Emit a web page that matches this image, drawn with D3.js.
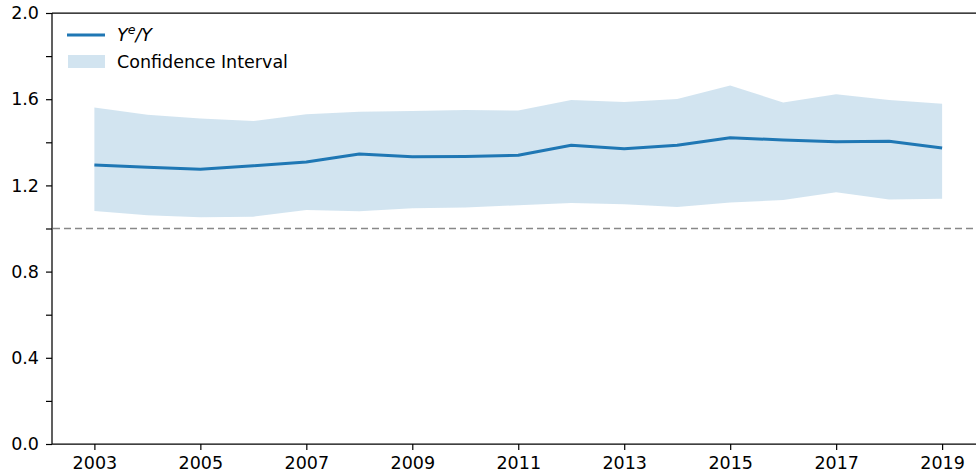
<!DOCTYPE html>
<html>
<head>
<meta charset="utf-8">
<script src="https://cdn.jsdelivr.net/npm/d3@7"></script>
<style>
  html, body { margin: 0; padding: 0; background: #fff; }
  svg { display: block; }
  text { font-family: "DejaVu Sans", sans-serif; fill: #000; }
</style>
</head>
<body>
<svg id="chart" width="976" height="476"></svg>
<script>
const years = [2003,2004,2005,2006,2007,2008,2009,2010,2011,2012,2013,2014,2015,2016,2017,2018,2019];
const ratio = [1.295,1.284,1.275,1.291,1.309,1.346,1.333,1.334,1.340,1.386,1.370,1.386,1.421,1.411,1.403,1.405,1.374];
const upper = [1.561,1.528,1.510,1.499,1.530,1.542,1.545,1.550,1.547,1.596,1.587,1.601,1.663,1.585,1.623,1.596,1.579];
const lower = [1.081,1.061,1.052,1.055,1.086,1.080,1.094,1.098,1.108,1.118,1.112,1.100,1.121,1.132,1.168,1.135,1.138];
const xTickLabels = [2003,2005,2007,2009,2011,2013,2015,2017,2019];
const yTickLabels = [0.0,0.4,0.8,1.2,1.6,2.0];
const yMinorTicks = [0.2,0.6,1.0,1.4,1.8];
const refValue = 1.0;

const svg = d3.select("#chart");
const pLeft = 52, pRight = 984.5, pTop = 13, pBottom = 444;
const fs = 17.5;
const color = "#1f77b4";

const x = d3.scaleLinear().domain([2002.2, 2019.8]).range([pLeft, pRight]);
const y = d3.scaleLinear().domain([0, 2]).range([pBottom, pTop]);

const data = years.map((yr, i) => ({yr, r: ratio[i], lo: lower[i], hi: upper[i]}));

// band
svg.append("path")
  .datum(data)
  .attr("fill", color)
  .attr("fill-opacity", 0.2)
  .attr("d", d3.area().x(d => x(d.yr)).y0(d => y(d.lo)).y1(d => y(d.hi)));

// reference line
svg.append("line")
  .attr("x1", pLeft + 1).attr("x2", pRight)
  .attr("y1", y(refValue)).attr("y2", y(refValue))
  .attr("stroke", "#888").attr("stroke-width", 1.4)
  .attr("stroke-dasharray", "7,4");

// main line
svg.append("path")
  .datum(data)
  .attr("fill", "none")
  .attr("stroke", color)
  .attr("stroke-width", 3)
  .attr("stroke-linejoin", "round")
  .attr("d", d3.line().x(d => x(d.yr)).y(d => y(d.r)));

// axes
const xAxis = d3.axisBottom(x).tickValues(xTickLabels).tickFormat(d3.format("d")).tickSizeOuter(0).tickSize(6).tickPadding(6);
const gx = svg.append("g").attr("transform", `translate(0,${pBottom})`).call(xAxis);
gx.select(".domain").remove();
gx.selectAll(".tick line").attr("stroke", "#000").attr("stroke-width", 1.2);
gx.selectAll(".tick text").attr("font-size", fs).attr("font-family", "DejaVu Sans, sans-serif").attr("dy", "0.73em");

const yAxis = d3.axisLeft(y).tickValues(yTickLabels).tickFormat(d3.format(".1f")).tickSize(6).tickPadding(7);
const gy = svg.append("g").attr("transform", `translate(${pLeft},0)`).call(yAxis);
gy.select(".domain").remove();
gy.selectAll(".tick line").attr("stroke", "#000").attr("stroke-width", 1.2);
gy.selectAll(".tick text").attr("font-size", fs).attr("font-family", "DejaVu Sans, sans-serif");

const gyMinor = svg.append("g").attr("transform", `translate(${pLeft},0)`)
  .call(d3.axisLeft(y).tickValues(yMinorTicks).tickFormat("").tickSize(6));
gyMinor.select(".domain").remove();
gyMinor.selectAll(".tick line").attr("stroke", "#000").attr("stroke-width", 1.2);

// spines
svg.append("line").attr("x1", pLeft).attr("x2", pLeft).attr("y1", pTop).attr("y2", pBottom)
  .attr("stroke", "#000").attr("stroke-width", 1.25);
svg.append("line").attr("x1", pLeft).attr("x2", pRight).attr("y1", pBottom).attr("y2", pBottom)
  .attr("stroke", "#000").attr("stroke-width", 1.25);
svg.append("line").attr("x1", pLeft).attr("x2", pRight).attr("y1", pTop).attr("y2", pTop)
  .attr("stroke", "#000").attr("stroke-width", 1.25);
svg.append("line").attr("x1", pRight).attr("x2", pRight).attr("y1", pTop).attr("y2", pBottom)
  .attr("stroke", "#000").attr("stroke-width", 1.25);

// legend
const lg = svg.append("g");
lg.append("line").attr("x1", 67).attr("x2", 105).attr("y1", 35).attr("y2", 35)
  .attr("stroke", color).attr("stroke-width", 3);
const t1 = lg.append("text").attr("x", 117).attr("y", 35).attr("dy", "0.36em").attr("font-size", fs);
t1.append("tspan").attr("font-style", "italic").text("Y");
t1.append("tspan").attr("font-style", "italic").attr("font-size", fs * 0.72).attr("dy", "-0.6em").text("e");
t1.append("tspan").attr("font-style", "italic").attr("dy", "0.43em").text("/Y");

lg.append("rect").attr("x", 68).attr("y", 55).attr("width", 37).attr("height", 13)
  .attr("fill", color).attr("fill-opacity", 0.2);
lg.append("text").attr("x", 117).attr("y", 62).attr("dy", "0.36em").attr("font-size", fs).text("Confidence Interval");
</script>
</body>
</html>
